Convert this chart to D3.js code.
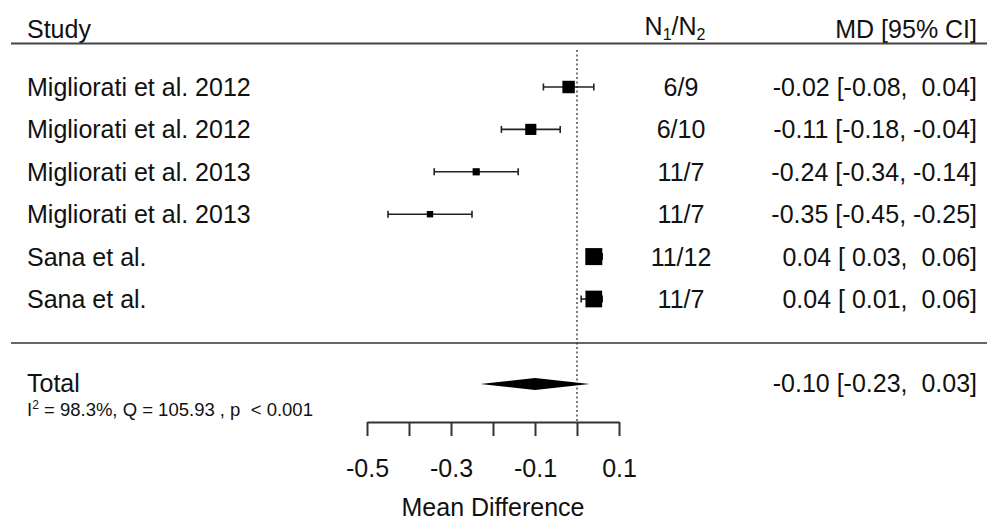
<!DOCTYPE html>
<html>
<head>
<meta charset="utf-8">
<script src="https://cdn.jsdelivr.net/npm/d3@7/dist/d3.min.js"></script>
<style>
  html, body { margin: 0; padding: 0; background: #fff; }
  svg { display: block; }
  text { font-family: "Liberation Sans", Arial, sans-serif; fill: #111; white-space: pre; }
</style>
</head>
<body>
<svg id="chart" width="987" height="522"></svg>
<script>
// Study-level data
const studies = [
  "Migliorati et al. 2012",
  "Migliorati et al. 2012",
  "Migliorati et al. 2013",
  "Migliorati et al. 2013",
  "Sana et al.",
  "Sana et al."
];
const sampleSizes = ["6/9", "6/10", "11/7", "11/7", "11/12", "11/7"];
const md    = [-0.02, -0.11, -0.24, -0.35, 0.04, 0.04];
const ciLow = [-0.08, -0.18, -0.34, -0.45, 0.03, 0.01];
const ciHigh= [ 0.04, -0.04, -0.14, -0.25, 0.06, 0.06];
const weights = [15, 12, 5, 4, 28, 27];

// Pooled estimate
const totalLabel = "Total";
const totalMd = -0.10, totalLow = -0.23, totalHigh = 0.03;
const heterogeneity = { i2: "98.3%", q: "105.93", p: "< 0.001" };

// Axis
const tickValues = [-0.5, -0.4, -0.3, -0.2, -0.1, 0.0, 0.1];
const tickLabels = ["-0.5", "", "-0.3", "", "-0.1", "", "0.1"];
const axisTitle = "Mean Difference";

const svg = d3.select("#chart");
const x = d3.scaleLinear().domain([-0.5, 0.1]).range([367, 619]);
const y = d3.scaleLinear().domain([0, 5]).range([87, 299]);
const size = d3.scaleSqrt().domain([0, 28]).range([0, 17]);

const FS = 25;
const leftX = 27, nX = 681, rightX = 977;
const fmt = d3.formatLocale({ decimal: ".", thousands: ",", grouping: [3], currency: ["", ""], minus: "-" }).format(".2f");
const pad = v => (v >= 0 ? " " : "") + fmt(v);
const ciText = (e, l, h) => fmt(e) + " [" + pad(l) + ", " + pad(h) + "]";

// Header
const hy = 38;
svg.append("text").attr("x", leftX).attr("y", hy).attr("font-size", FS).text("Study");
const nh = svg.append("text").attr("x", 675).attr("y", hy - 3).attr("font-size", FS).attr("text-anchor", "middle");
nh.append("tspan").text("N");
nh.append("tspan").attr("font-size", 16).attr("dy", 5).text("1");
nh.append("tspan").attr("dy", -5).text("/N");
nh.append("tspan").attr("font-size", 16).attr("dy", 5).text("2");
svg.append("text").attr("x", rightX).attr("y", hy).attr("font-size", FS).attr("text-anchor", "end").text("MD [95% CI]");

svg.append("line").attr("x1", 11).attr("x2", 987).attr("y1", 43.5).attr("y2", 43.5)
  .attr("stroke", "#444").attr("stroke-width", 2);
svg.append("line").attr("x1", 11).attr("x2", 987).attr("y1", 343).attr("y2", 343)
  .attr("stroke", "#666").attr("stroke-width", 2);

// Reference line at zero
svg.append("line").attr("x1", x(0)).attr("x2", x(0)).attr("y1", 50).attr("y2", 422)
  .attr("stroke", "#333").attr("stroke-width", 1.3).attr("stroke-dasharray", "2,2.5");

// Study rows
const rows = svg.append("g").selectAll("g").data(studies).join("g");
rows.append("text").attr("x", leftX).attr("y", (d, i) => y(i) + 9).attr("font-size", FS).text(d => d);
rows.append("text").attr("x", nX).attr("y", (d, i) => y(i) + 9).attr("font-size", FS)
  .attr("text-anchor", "middle").text((d, i) => sampleSizes[i]);
rows.append("text").attr("x", rightX).attr("y", (d, i) => y(i) + 9).attr("font-size", FS)
  .attr("text-anchor", "end").text((d, i) => ciText(md[i], ciLow[i], ciHigh[i]));

rows.append("line")
  .attr("x1", (d, i) => x(ciLow[i])).attr("x2", (d, i) => x(ciHigh[i]))
  .attr("y1", (d, i) => y(i)).attr("y2", (d, i) => y(i))
  .attr("stroke", "#222").attr("stroke-width", 1.6);
[ciLow, ciHigh].forEach(arr => {
  rows.append("line")
    .attr("x1", (d, i) => x(arr[i])).attr("x2", (d, i) => x(arr[i]))
    .attr("y1", (d, i) => y(i) - 3.5).attr("y2", (d, i) => y(i) + 3.5)
    .attr("stroke", "#222").attr("stroke-width", 1.6);
});
rows.append("rect")
  .attr("x", (d, i) => x(md[i]) - size(weights[i]) / 2)
  .attr("y", (d, i) => y(i) - size(weights[i]) / 2)
  .attr("width", (d, i) => size(weights[i]))
  .attr("height", (d, i) => size(weights[i]))
  .attr("fill", "#000");

// Pooled row
const ty = 384;
svg.append("text").attr("x", leftX).attr("y", ty + 8).attr("font-size", FS).text(totalLabel);
const het = svg.append("text").attr("x", leftX).attr("y", 416).attr("font-size", 18.5);
het.append("tspan").text("I");
het.append("tspan").attr("font-size", 12).attr("dy", -7).text("2");
het.append("tspan").attr("dy", 7).text(" = " + heterogeneity.i2 + ", Q = " + heterogeneity.q + " , p  " + heterogeneity.p);
svg.append("text").attr("x", rightX).attr("y", ty + 8).attr("font-size", FS)
  .attr("text-anchor", "end").text(ciText(totalMd, totalLow, totalHigh));
svg.append("polygon")
  .attr("points", [[x(totalLow), ty], [x(totalMd), ty - 6], [x(totalHigh), ty], [x(totalMd), ty + 6]].map(p => p.join(",")).join(" "))
  .attr("fill", "#000");

// Bottom axis
const axis = d3.axisBottom(x).tickValues(tickValues).tickSize(14).tickSizeOuter(0).tickPadding(23)
  .tickFormat((d, i) => tickLabels[i]);
const ag = svg.append("g").attr("transform", "translate(0,422)").call(axis);
ag.select(".domain").attr("stroke", "#333").attr("stroke-width", 2);
ag.selectAll(".tick line").attr("stroke", "#333").attr("stroke-width", 2);
ag.selectAll(".tick text").attr("font-size", FS).attr("fill", "#111")
  .attr("font-family", "Liberation Sans, Arial, sans-serif");
svg.append("text").attr("x", x(-0.2)).attr("y", 516).attr("font-size", FS)
  .attr("text-anchor", "middle").text(axisTitle);
</script>
</body>
</html>
